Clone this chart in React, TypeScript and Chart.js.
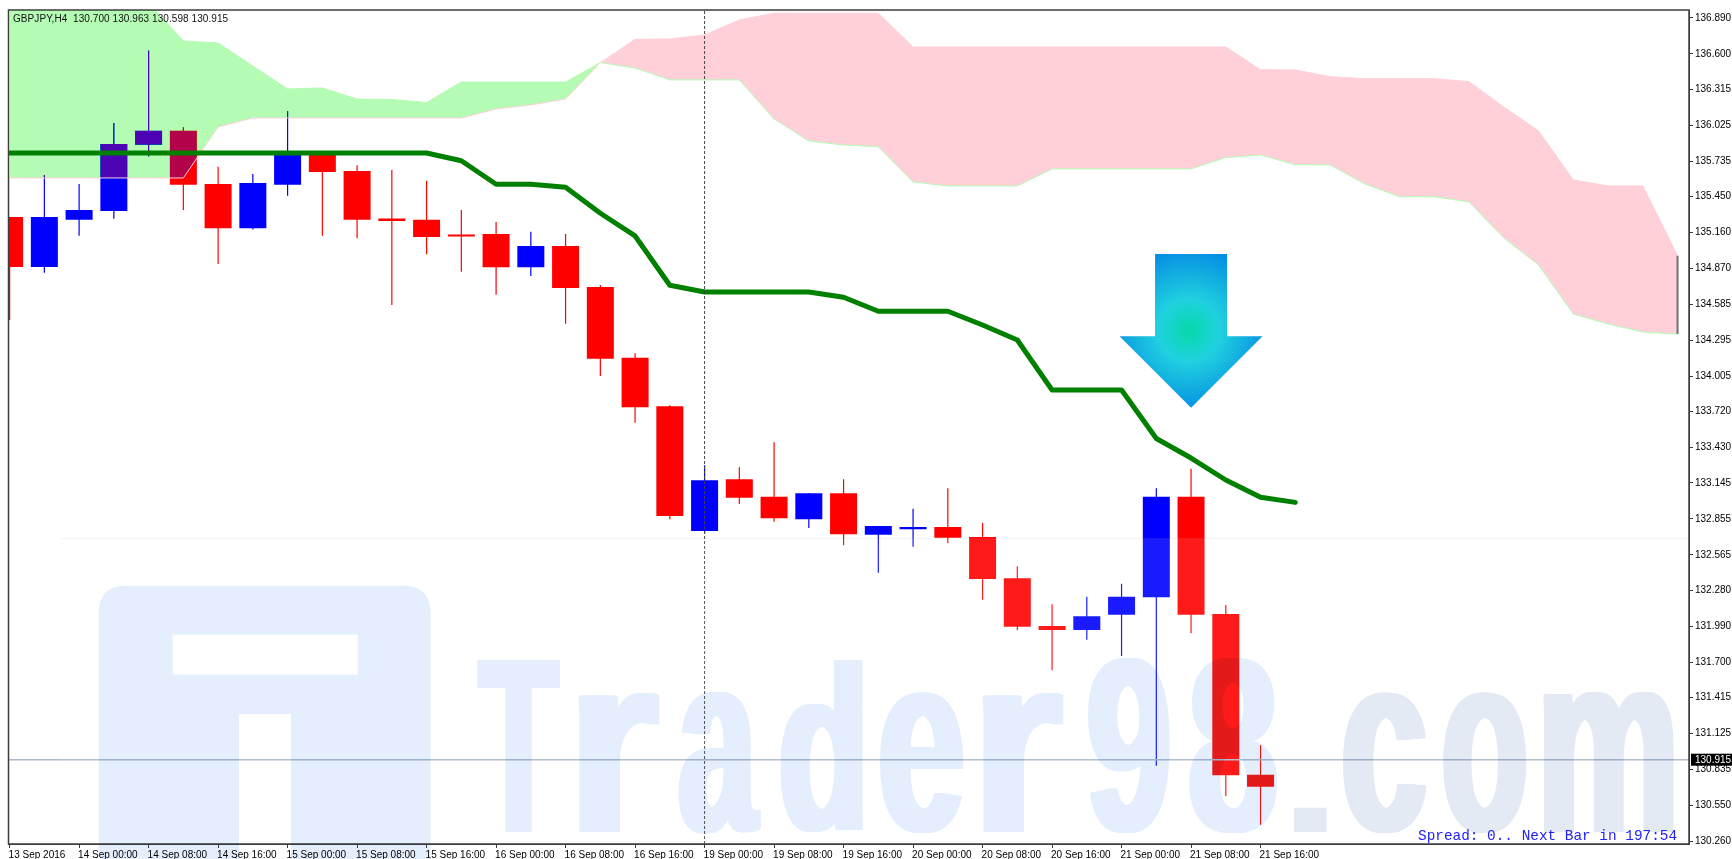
import React, { useEffect, useRef } from "react";
import { Chart, registerables } from "chart.js";

const symbolCaption = "GBPJPY,H4  130.700 130.963 130.598 130.915";
const statusCaption = "Spread: 0.. Next Bar in 197:54";
const watermarkText = "Trader98.com";
const lastPrice = 130.915;
const crosshairBar = 20;
const arrowBar = 34;
const arrowTop = 134.989;
const arrowShoulder = 134.326;
const arrowTip = 133.751;

const xTickLabels = [
  "13 Sep 2016", "14 Sep 00:00", "14 Sep 08:00", "14 Sep 16:00", "15 Sep 00:00", "15 Sep 08:00", "15 Sep 16:00",
  "16 Sep 00:00", "16 Sep 08:00", "16 Sep 16:00", "19 Sep 00:00", "19 Sep 08:00", "19 Sep 16:00", "20 Sep 00:00",
  "20 Sep 08:00", "20 Sep 16:00", "21 Sep 00:00", "21 Sep 08:00", "21 Sep 16:00",
];
const yTicks = [
  136.89, 136.6, 136.315, 136.025, 135.735, 135.45, 135.16, 134.87, 134.585, 134.295, 134.005, 133.72, 133.43,
  133.145, 132.855, 132.565, 132.28, 131.99, 131.7, 131.415, 131.125, 130.835, 130.55, 130.26,
];

const opens = [
  135.287, 134.884, 135.265, 135.335, 135.869, 135.982, 135.553, 135.196, 135.547, 135.81, 135.657, 135.275, 135.265,
  135.142, 135.15, 134.882, 135.053, 134.723, 134.153, 133.762, 132.757, 133.174, 133.034, 132.852, 133.061, 132.727,
  132.771, 132.79, 132.709, 132.376, 131.992, 131.96, 132.083, 132.223, 133.034, 132.089, 130.794,
];
const highs = [
  135.287, 135.625, 135.553, 136.044, 136.627, 136.009, 135.692, 135.633, 136.141, 135.81, 135.703, 135.665, 135.579,
  135.343, 135.247, 135.168, 135.15, 134.739, 134.189, 133.77, 133.287, 133.27, 133.472, 133.061, 133.174, 132.798,
  132.937, 133.101, 132.822, 132.473, 132.167, 132.228, 132.333, 133.101, 133.259, 132.161, 131.031,
];
const lows = [
  134.457, 134.838, 135.136, 135.273, 135.773, 135.343, 134.908, 135.185, 135.458, 135.136, 135.115, 134.578, 134.986,
  134.846, 134.661, 134.812, 134.427, 134.006, 133.63, 132.852, 132.739, 132.975, 132.832, 132.781, 132.642, 132.421,
  132.631, 132.658, 132.204, 131.957, 131.635, 131.882, 131.75, 130.867, 131.933, 130.62, 130.391,
];
const closes = [
  134.884, 135.287, 135.343, 135.875, 135.982, 135.547, 135.196, 135.561, 135.81, 135.649, 135.265, 135.255, 135.126,
  135.13, 134.882, 135.053, 134.715, 134.145, 133.754, 132.878, 133.166, 133.026, 132.86, 133.061, 132.731, 132.798,
  132.79, 132.703, 132.371, 131.986, 131.96, 132.07, 132.228, 133.034, 132.083, 130.789, 130.697,
];
const kijun = [
  135.802, 135.802, 135.802, 135.802, 135.802, 135.802, 135.802, 135.802, 135.802, 135.802, 135.802, 135.802, 135.802,
  135.74, 135.55, 135.55, 135.526, 135.317, 135.134, 134.737, 134.683, 134.683, 134.683, 134.683, 134.64, 134.527,
  134.527, 134.527, 134.417, 134.296, 133.893, 133.893, 133.893, 133.502, 133.345, 133.168, 133.029, 132.988,
];
const spanA = [
  135.601, 135.601, 135.601, 135.601, 135.601, 135.601, 136.012, 136.084, 136.084, 136.084, 136.084, 136.084, 136.084,
  136.084, 136.157, 136.189, 136.237, 136.53, 136.718, 136.721, 136.753, 136.874, 136.928, 136.928, 136.928, 136.928,
  136.656, 136.656, 136.656, 136.656, 136.656, 136.656, 136.656, 136.656, 136.656, 136.656, 136.473, 136.471, 136.417,
  136.401, 136.401, 136.401, 136.377, 136.173, 135.98, 135.585, 135.537, 135.537, 134.975,
];
const spanB = [
  137.011, 137.011, 137.011, 137.011, 137.011, 136.705, 136.689, 136.503, 136.318, 136.326, 136.237, 136.233, 136.209,
  136.374, 136.374, 136.374, 136.374, 136.53, 136.487, 136.391, 136.391, 136.391, 136.076, 135.899, 135.867, 135.853,
  135.569, 135.537, 135.537, 135.537, 135.674, 135.674, 135.674, 135.674, 135.674, 135.765, 135.786, 135.708, 135.706,
  135.553, 135.45, 135.45, 135.408, 135.118, 134.9, 134.505, 134.425, 134.36, 134.344,
];

const xMin = -0.032;
const xMax = 48.33;
const yMin = 130.236;
const yMax = 136.954;

const frameColor = "#3c3c3c";
const upColor = "#0000ff";
const downColor = "#ff0000";
const tickFont = { family: "'Liberation Sans'", size: 10 };

// Pixel box of every watermark glyph: left, right, top, bottom.
const glyphBoxes = [
  [477, 560, 660, 832],
  [578, 660, 692, 832],
  [678, 761, 692, 833],
  [780, 863, 660, 833],
  [880, 964, 692, 833],
  [982, 1064, 692, 832],
  [1088, 1170, 658, 833],
  [1189, 1277, 658, 833],
  [1294, 1327, 807, 832],
  [1343, 1427, 692, 833],
  [1443, 1526, 692, 833],
  [1543, 1674, 692, 832],
];

// The platform blends cloud over candles, which the canvas "difference" mode reproduces.
const blendOn = {
  id: "blendOn",
  beforeDraw(chart: any) {
    chart.ctx.save();
    chart.ctx.fillStyle = "#fff";
    chart.ctx.fillRect(0, 0, chart.width, chart.height);
    chart.ctx.restore();
  },
  beforeDatasetDraw(chart: any, args: any) {
    const mode = chart.data.datasets[args.index].blendMode;
    if (mode) chart.ctx.globalCompositeOperation = mode;
  },
  afterDatasetDraw(chart: any) {
    chart.ctx.globalCompositeOperation = "source-over";
  },
};

function roundedTopShape(ctx: CanvasRenderingContext2D, l: number, t: number, r: number, b: number, rad: number) {
  ctx.moveTo(l, b);
  ctx.lineTo(l, t + rad);
  ctx.quadraticCurveTo(l, t, l + rad, t);
  ctx.lineTo(r - rad, t);
  ctx.quadraticCurveTo(r, t, r, t + rad);
  ctx.lineTo(r, b);
  ctx.closePath();
}

function watermarkLayer(): HTMLCanvasElement {
  const layer = document.createElement("canvas");
  layer.width = 1732;
  layer.height = 859;
  const lc = layer.getContext("2d") as CanvasRenderingContext2D;
  lc.font = "bold 236px 'Liberation Sans'";
  lc.textBaseline = "alphabetic";
  lc.textAlign = "left";
  const chars = watermarkText.split("");
  chars.forEach((ch, i) => {
    const [l, r, t, b] = glyphBoxes[i];
    const m = lc.measureText(ch);
    const gw = m.actualBoundingBoxRight + m.actualBoundingBoxLeft;
    const gh = m.actualBoundingBoxAscent + m.actualBoundingBoxDescent;
    const bold = ch === "." ? 0 : 8;
    const sx = (r - l - bold) / gw;
    const sy = (b - t) / gh;
    lc.fillStyle = i >= 8 ? "#e4eaf3" : "#e4eefc";
    for (let off = 0; off <= bold; off += 1) {
      lc.setTransform(sx, 0, 0, sy, l + off + m.actualBoundingBoxLeft * sx, t + m.actualBoundingBoxAscent * sy);
      lc.fillText(ch, 0, 0);
    }
  });
  return layer;
}

const overlays = {
  id: "overlays",
  afterDatasetsDraw(chart: any) {
    const { ctx, scales } = chart;
    const X = scales.x;
    const Y = scales.y;
    ctx.save();

    // arrow
    const cx = X.getPixelForValue(arrowBar);
    const top = Y.getPixelForValue(arrowTop);
    const sh = Y.getPixelForValue(arrowShoulder);
    const tip = Y.getPixelForValue(arrowTip);
    const g = ctx.createRadialGradient(cx - 2, sh - 6, 0, cx - 2, sh - 6, 92);
    g.addColorStop(0, "#06d8a8");
    g.addColorStop(0.14, "#10d6c0");
    g.addColorStop(0.34, "#20d0e0");
    g.addColorStop(0.62, "#12aee0");
    g.addColorStop(1, "#0080e8");
    ctx.beginPath();
    ctx.moveTo(cx - 36, top);
    ctx.lineTo(cx + 36, top);
    ctx.lineTo(cx + 36, sh);
    ctx.lineTo(cx + 71.5, sh);
    ctx.lineTo(cx, tip);
    ctx.lineTo(cx - 71.5, sh);
    ctx.lineTo(cx - 36, sh);
    ctx.closePath();
    ctx.fillStyle = g;
    ctx.fill();

    // captions
    ctx.textBaseline = "alphabetic";
    ctx.textAlign = "left";
    ctx.fillStyle = "#111";
    ctx.font = "10px 'Liberation Sans'";
    ctx.letterSpacing = "0.07px";
    ctx.fillText(symbolCaption, 13, 22);
    ctx.restore();
  },
  afterDraw(chart: any) {
    const { ctx, chartArea: a, scales } = chart;
    const Y = scales.y;
    ctx.save();

    // frame
    ctx.strokeStyle = frameColor;
    ctx.lineWidth = 1.5;
    ctx.strokeRect(a.left, a.top, a.right - a.left, a.bottom - a.top);

    // pale sheet of the watermark image
    const sheetTop = 538;
    ctx.fillStyle = "rgba(255,255,255,0.1)";
    ctx.fillRect(61, sheetTop, a.right - 62, a.bottom - sheetTop - 1);
    ctx.fillStyle = "#f5f5f5";
    ctx.globalCompositeOperation = "multiply";
    ctx.fillRect(61, sheetTop, a.right - 62, 1);

    // watermark, multiplied over everything it crosses
    ctx.fillStyle = "#e4eefc";
    ctx.beginPath();
    roundedTopShape(ctx, 98.7, 585.7, 430.5, 859, 28);
    ctx.moveTo(172.6, 634.7);
    ctx.lineTo(172.6, 674.7);
    ctx.lineTo(357.8, 674.7);
    ctx.lineTo(357.8, 634.7);
    ctx.closePath();
    ctx.moveTo(239, 859);
    ctx.lineTo(291, 859);
    ctx.lineTo(291, 714);
    ctx.lineTo(239, 714);
    ctx.closePath();
    ctx.fill("evenodd");
    ctx.drawImage(watermarkLayer(), 0, 0);
    ctx.globalCompositeOperation = "source-over";

    // status text
    ctx.fillStyle = "#2222ff";
    ctx.font = "14.4px 'Liberation Mono'";
    ctx.textAlign = "left";
    ctx.textBaseline = "alphabetic";
    ctx.fillText(statusCaption, 1418, 840);

    // last-price tag
    const py = Y.getPixelForValue(lastPrice);
    ctx.fillStyle = "#000";
    ctx.fillRect(a.right + 2, py - 6, 41, 12);
    ctx.fillStyle = "#fff";
    ctx.font = "10px 'Liberation Sans'";
    ctx.textBaseline = "middle";
    ctx.fillText(lastPrice.toFixed(3), a.right + 6, py + 0.5);
    ctx.restore();
  },
};

Chart.register(blendOn, ...registerables);

const bars = opens.map((_, i) => i);
const candleColors = bars.map((i) => (closes[i] >= opens[i] ? upColor : downColor));
const pts = (ys: number[]) => ys.map((y, x) => ({ x, y }));

export default function App() {
  const ref = useRef<HTMLCanvasElement>(null);
  useEffect(() => {
    document.body.style.margin = "0";
    document.body.style.background = "#fff";
    const chart = new Chart(ref.current as HTMLCanvasElement, {
      type: "bar",
      data: {
        datasets: [
          {
            type: "bar",
            order: 10,
            data: bars.map((i) => ({ x: i, y: [lows[i], highs[i]] })),
            backgroundColor: candleColors,
            barThickness: 1.2,
            grouped: false,
            inflateAmount: 0,
          },
          {
            type: "bar",
            order: 9,
            data: bars.map((i) => ({ x: i, y: [opens[i], closes[i]] })),
            backgroundColor: candleColors,
            barThickness: 27,
            grouped: false,
            inflateAmount: 0,
            minBarLength: 2,
          },
          {
            type: "line",
            order: 8,
            blendMode: "difference",
            data: pts(spanA),
            borderColor: "transparent",
            borderWidth: 1,
            pointRadius: 0,
            fill: { target: 3, above: "#002f27", below: "#4b034b" },
          },
          {
            type: "line",
            order: 7,
            data: pts(spanB),
            borderColor: "#b4fcb4",
            borderWidth: 1,
            pointRadius: 0,
            fill: false,
          },
          {
            type: "line",
            order: 6,
            data: pts(spanA),
            borderColor: "#ffd0d8",
            borderWidth: 1,
            pointRadius: 0,
            fill: false,
          },
          {
            type: "line",
            order: 5,
            data: [
              { x: 48, y: spanA[48] },
              { x: 48, y: spanB[48] },
            ],
            borderColor: "#707070",
            borderWidth: 2,
            pointRadius: 0,
            fill: false,
          },
          {
            type: "line",
            order: 4,
            data: pts(kijun),
            borderColor: "#008000",
            borderWidth: 5,
            borderJoinStyle: "round",
            borderCapStyle: "round",
            pointRadius: 0,
            fill: false,
          },
          {
            type: "line",
            order: 3,
            data: [
              { x: xMin, y: lastPrice },
              { x: xMax, y: lastPrice },
            ],
            borderColor: "#a9b8ca",
            borderWidth: 1.5,
            pointRadius: 0,
            fill: false,
          },
          {
            type: "line",
            order: 2,
            data: [
              { x: crosshairBar, y: yMin },
              { x: crosshairBar, y: yMax },
            ],
            borderColor: "#444",
            borderWidth: 1,
            borderDash: [3, 2],
            pointRadius: 0,
            fill: false,
          },
        ],
      } as any,
      options: {
        responsive: false,
        animation: false,
        events: [],
        layout: { padding: { left: 8.5, top: 10, right: 0, bottom: 0 } },
        plugins: { legend: { display: false }, tooltip: { enabled: false }, title: { display: false } },
        scales: {
          x: {
            type: "linear",
            offset: false,
            min: xMin,
            max: xMax,
            afterBuildTicks: (s: any) => {
              s.ticks = xTickLabels.map((_, i) => ({ value: i * 2 }));
            },
            afterFit: (s: any) => {
              s.height = 15;
            },
            grid: { display: true, drawOnChartArea: false, drawTicks: true, tickLength: 4, tickColor: frameColor, offset: false },
            border: { display: true, color: frameColor },
            ticks: {
              autoSkip: false,
              maxRotation: 0,
              minRotation: 0,
              align: "start",
              padding: 1,
              labelOffset: -1,
              color: "#000",
              font: tickFont,
              callback: (v: any) => xTickLabels[Math.round(Number(v) / 2)],
            },
          },
          y: {
            type: "linear",
            position: "right",
            min: yMin,
            max: yMax,
            afterBuildTicks: (s: any) => {
              s.ticks = yTicks.map((value) => ({ value }));
            },
            afterFit: (s: any) => {
              s.width = 43;
            },
            grid: { display: true, drawOnChartArea: false, drawTicks: true, tickLength: 4, tickColor: frameColor },
            border: { display: true, color: frameColor },
            ticks: {
              autoSkip: false,
              crossAlign: "near",
              padding: 2,
              color: "#000",
              font: tickFont,
              callback: (v: any) => Number(v).toFixed(3),
            },
          },
        },
      } as any,
      plugins: [overlays],
    });
    return () => chart.destroy();
  }, []);
  return <canvas ref={ref} width={1732} height={859} style={{ display: "block", width: 1732, height: 859 }} />;
}
